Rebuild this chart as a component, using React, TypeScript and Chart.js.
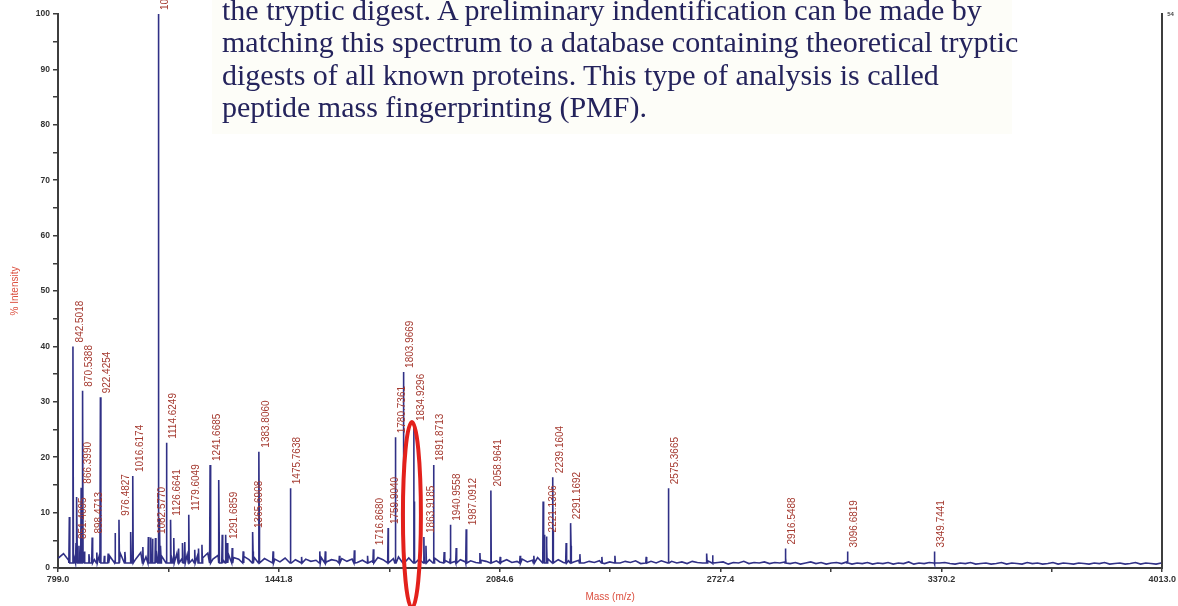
import React, { useEffect, useRef } from 'react';
import { Chart, registerables } from 'chart.js';

Chart.register(...registerables);

// Caption printed above the spectrum
const captionLines = [
  'the tryptic digest. A preliminary indentification can be made by',
  'matching this spectrum to a database containing theoretical tryptic',
  'digests of all known proteins. This type of analysis is called',
  'peptide mass fingerprinting (PMF).',
];

// Annotated peaks: m/z and relative intensity (%)
const labelledMass = [
  842.5018, 851.4095, 866.399, 870.5388, 898.4713, 922.4254, 976.4827, 1016.6174,
  1082.577, 1090.5422, 1114.6249, 1126.6641, 1179.6049, 1241.6685, 1291.6859, 1365.6908,
  1383.806, 1475.7638, 1716.868, 1759.904, 1780.7361, 1803.9669, 1834.9296, 1863.9185,
  1891.8713, 1940.9558, 1987.0912, 2058.9641, 2221.1306, 2239.1604, 2291.1692, 2575.3665,
  2916.5488, 3096.6819, 3349.7441,
];
const labelledIntensity = [
  40, 4.5, 14.5, 32, 5.5, 30.8, 8.7, 16.6,
  5.4, 100, 22.6, 8.7, 9.6, 18.6, 4.5, 6.5,
  21, 14.4, 3.4, 7.2, 23.6, 35.4, 25.8, 5.6,
  18.6, 7.8, 7, 14, 5.7, 16.4, 8.1, 14.4,
  3.5, 3, 3,
];

// Unannotated peaks and isotope lines
const otherMass = [
  832, 854, 860, 876, 889, 912, 934, 945, 965, 993.6, 1011, 1046, 1062, 1069, 1074,
  1091.54, 1092.54, 1094.5, 1098, 1115.6, 1136, 1150, 1162, 1168, 1197, 1208, 1218,
  1242.7, 1267.5, 1277, 1287, 1306, 1338, 1366.7, 1384.8, 1425, 1476.8, 1508, 1561,
  1577, 1618, 1661.6, 1700, 1781.7, 1805, 1806, 1835.9, 1836.9, 1870, 1892.9, 1923,
  1958, 2027, 2086, 2144, 2184, 2211, 2214, 2222.1, 2240.2, 2278, 2292.2, 2318, 2382,
  2420, 2511, 2576.4, 2687, 2704, 2917.5, 3097.7, 3350.7,
];
const otherIntensity = [
  9.2, 12.8, 4, 3, 2.5, 2.8, 2.2, 2.6, 6.3, 2.9, 6.5, 3.8, 5.6, 5.5, 5.3,
  64, 28, 9, 4, 12, 5.4, 3.5, 4.5, 4.7, 3.3, 3.5, 4.2,
  10, 15.9, 6, 6, 3.6, 3, 3, 8, 3, 5, 2, 3,
  3, 2.2, 3.2, 2.2, 10, 18, 8, 12, 5, 4, 7, 2.9,
  3.6, 2.7, 2, 2.2, 2.2, 12, 6, 4, 7, 4.5, 4, 2.5, 2,
  2.2, 2, 5, 2.6, 2.3, 1.8, 1.6, 1.6,
];

// Baseline noise, sampled every 15 m/z from 800 to 4010
const baselineStart = 800;
const baselineStep = 15;
const baselineLevels = [
  1.8, 2.6, 1.4, 2.2, 1.6, 2.9, 1.9, 1.5, 2.4, 1.7, 2.1, 1.3, 2.7, 1.8, 2.3, 1.6, 2.8, 2.0, 2.5, 3.1,
  2.2, 3.0, 1.9, 2.6, 1.7, 2.4, 1.5, 2.2, 1.8, 2.7, 1.6, 2.3, 1.4, 2.5, 1.9, 1.6, 2.1, 1.5, 1.9, 1.3,
  1.7, 1.2, 1.6, 1.1, 1.8, 1.3, 1.5, 1.0, 1.6, 1.2, 1.4, 1.9, 1.1, 1.5, 1.3, 1.7, 1.2, 1.6, 1.0, 1.4,
  1.6, 1.3, 1.9, 1.5, 2.2, 1.7, 2.0, 1.4, 1.8, 1.3, 1.6, 1.2, 1.5, 1.8, 1.1, 1.4, 1.7, 1.2, 1.5, 1.1,
  1.3, 1.0, 1.4, 1.2, 0.9, 1.3, 1.1, 1.5, 1.0, 1.2, 1.6, 1.1, 1.4, 1.9, 1.3, 1.7, 1.2, 1.5, 1.0, 1.3,
  1.1, 1.4, 0.9, 1.2, 1.0, 1.3, 0.8, 1.1, 1.4, 0.9, 1.2, 1.0, 1.3, 0.8, 1.1, 1.2, 0.9, 1.3, 1.0, 1.2,
  0.9, 1.1, 0.8, 1.2, 1.0, 0.9, 1.3, 0.8, 1.0, 1.1, 0.7, 1.0, 0.9, 1.2, 0.8, 1.0, 0.9, 1.1, 0.8, 1.0,
  0.9, 1.1, 0.8, 1.0, 0.7, 0.9, 1.1, 0.8, 1.0, 0.7, 0.9, 1.0, 0.8, 1.1, 0.7, 0.9, 0.8, 1.0, 0.7, 0.9,
  0.8, 1.0, 0.7, 0.9, 0.8, 1.1, 0.7, 0.9, 0.8, 1.0, 0.7, 0.9, 1.0, 0.8, 0.7, 0.9, 0.8, 1.0, 0.7, 0.8,
  0.9, 0.7, 0.8, 1.0, 0.7, 0.9, 0.8, 0.7, 1.0, 0.8, 0.9, 0.7, 0.8, 1.0, 0.7, 0.9, 0.8, 0.7, 0.9, 0.8,
  0.7, 0.9, 0.8, 1.0, 0.7, 0.8, 0.9, 0.7, 0.8, 1.0, 0.7, 0.9, 0.8, 0.7, 0.9,
];

// Axis ticks
const xMajorTicks = [799.0, 1441.8, 2084.6, 2727.4, 3370.2, 4013.0];
const xMinorTicks = [1120.4, 1763.2, 2406.0, 3048.8, 3691.6];
const yMin = 0;
const yMax = 100;
const rightAxisLabel = '54';

// Peak highlighted with a ring
const highlightMass = 1834.9296;

const PEAK_HALF_WIDTH = 1.4;
const PEAK_FOOT = 0.9;

function buildSpectrum() {
  const pts: { x: number; y: number }[] = [];
  baselineLevels.forEach((v, i) => pts.push({ x: baselineStart + i * baselineStep, y: v }));
  const addPeak = (m: number, h: number) => {
    pts.push({ x: m - PEAK_HALF_WIDTH, y: PEAK_FOOT });
    pts.push({ x: m, y: h });
    pts.push({ x: m + PEAK_HALF_WIDTH, y: PEAK_FOOT });
  };
  labelledMass.forEach((m, i) => addPeak(m, labelledIntensity[i]));
  otherMass.forEach((m, i) => addPeak(m, otherIntensity[i]));
  pts.sort((a, b) => a.x - b.x);
  return pts;
}

const SANS = '"Liberation Sans", Arial, sans-serif';

const peakLabelPlugin = {
  id: 'peakLabels',
  afterDatasetsDraw(chart: any) {
    const { ctx } = chart;
    const xs = chart.scales.x;
    const ys = chart.scales.y;
    ctx.save();
    ctx.fillStyle = '#a53a30';
    ctx.font = `10px ${SANS}`;
    ctx.textAlign = 'left';
    ctx.textBaseline = 'middle';
    labelledMass.forEach((m, i) => {
      const px = xs.getPixelForValue(m);
      const py = ys.getPixelForValue(labelledIntensity[i]);
      ctx.save();
      ctx.translate(px + 7, py - 4);
      ctx.rotate(-Math.PI / 2);
      ctx.fillText(m.toFixed(4), 0, 0);
      ctx.restore();
    });
    ctx.restore();
  },
};

const highlightPlugin = {
  id: 'highlightRing',
  afterDraw(chart: any) {
    const { ctx } = chart;
    const xs = chart.scales.x;
    const ys = chart.scales.y;
    const peakIdx = labelledMass.indexOf(highlightMass);
    const cx = xs.getPixelForValue(highlightMass) - 2;
    const top = ys.getPixelForValue(labelledIntensity[peakIdx]) - 3;
    const bottom = chart.height + 2;
    ctx.save();
    ctx.strokeStyle = '#e3211c';
    ctx.lineWidth = 4;
    ctx.beginPath();
    ctx.ellipse(cx, (top + bottom) / 2, 9, (bottom - top) / 2, 0, 0, Math.PI * 2);
    ctx.stroke();
    ctx.restore();
  },
};

export default function App() {
  const canvasRef = useRef<HTMLCanvasElement | null>(null);

  useEffect(() => {
    const canvas = canvasRef.current;
    if (!canvas) return;
    const axisColor = '#3d3d3d';
    const chart = new Chart(canvas, {
      type: 'line',
      data: {
        datasets: [
          {
            data: buildSpectrum(),
            borderColor: '#303086',
            borderWidth: 1.6,
            pointRadius: 0,
            tension: 0,
            fill: false,
          },
        ],
      },
      options: {
        animation: false,
        responsive: false,
        devicePixelRatio: 1,
        layout: { padding: { top: 14, left: 0, right: 0, bottom: 0 } },
        plugins: { legend: { display: false }, tooltip: { enabled: false } },
        scales: {
          x: {
            type: 'linear',
            min: xMajorTicks[0],
            max: xMajorTicks[xMajorTicks.length - 1],
            afterBuildTicks: (s: any) => {
              s.ticks = [...xMajorTicks, ...xMinorTicks].sort((a, b) => a - b).map((v) => ({ value: v }));
            },
            afterFit: (s: any) => {
              s.height = 38;
            },
            ticks: {
              autoSkip: false,
              maxRotation: 0,
              padding: 2,
              color: '#333',
              font: { family: SANS, size: 9, weight: 'bold' },
              callback: (v: any) => (xMajorTicks.includes(Number(v)) ? Number(v).toFixed(1) : ''),
            },
            grid: { drawOnChartArea: false, drawTicks: true, tickLength: 4, color: axisColor, lineWidth: 1.5 },
            border: { display: true, color: axisColor, width: 2 },
            title: {
              display: true,
              text: 'Mass (m/z)',
              color: '#dc5040',
              font: { family: SANS, size: 10 },
              padding: { top: 0, bottom: 3 },
            },
          },
          y: {
            min: yMin,
            max: yMax,
            afterFit: (s: any) => {
              s.width = 58;
            },
            ticks: {
              stepSize: 5,
              padding: 3,
              color: '#333',
              font: { family: SANS, size: 8.5, weight: 'bold' },
              callback: (v: any) => (Number(v) % 10 === 0 ? String(v) : ''),
            },
            grid: { drawOnChartArea: false, drawTicks: true, tickLength: 5, color: axisColor, lineWidth: 1.5 },
            border: { display: true, color: axisColor, width: 2 },
            title: {
              display: true,
              text: '% Intensity',
              color: '#dc5040',
              font: { family: SANS, size: 10 },
              padding: { top: 9, bottom: 0 },
            },
          },
          y2: {
            position: 'right',
            min: yMin,
            max: yMax,
            afterBuildTicks: (s: any) => {
              s.ticks = [{ value: yMax }];
            },
            afterFit: (s: any) => {
              s.width = 15;
            },
            ticks: {
              padding: 5,
              color: '#444',
              font: { family: SANS, size: 6, weight: 'bold' },
              callback: () => rightAxisLabel,
            },
            grid: { display: false, drawOnChartArea: false, drawTicks: false },
            border: { display: true, color: axisColor, width: 2 },
          },
        },
      } as any,
      plugins: [peakLabelPlugin, highlightPlugin],
    });
    return () => chart.destroy();
  }, []);

  return (
    <div
      style={{
        position: 'absolute',
        left: 0,
        top: 0,
        width: 1178,
        height: 606,
        overflow: 'hidden',
        background: '#ffffff',
      }}
    >
      <canvas ref={canvasRef} width={1178} height={606} style={{ position: 'absolute', left: 0, top: 0 }} />
      <div
        style={{
          position: 'absolute',
          left: 212,
          top: 0,
          width: 800,
          height: 134,
          background: '#fdfdf8',
        }}
      />
      <div
        style={{
          position: 'absolute',
          left: 222,
          top: -6.4,
          fontFamily: '"Liberation Serif", "Times New Roman", serif',
          fontSize: 30,
          lineHeight: '32.5px',
          color: '#24235c',
          whiteSpace: 'pre',
        }}
      >
        {captionLines.map((line, i) => (
          <div key={i}>{line}</div>
        ))}
      </div>
    </div>
  );
}
